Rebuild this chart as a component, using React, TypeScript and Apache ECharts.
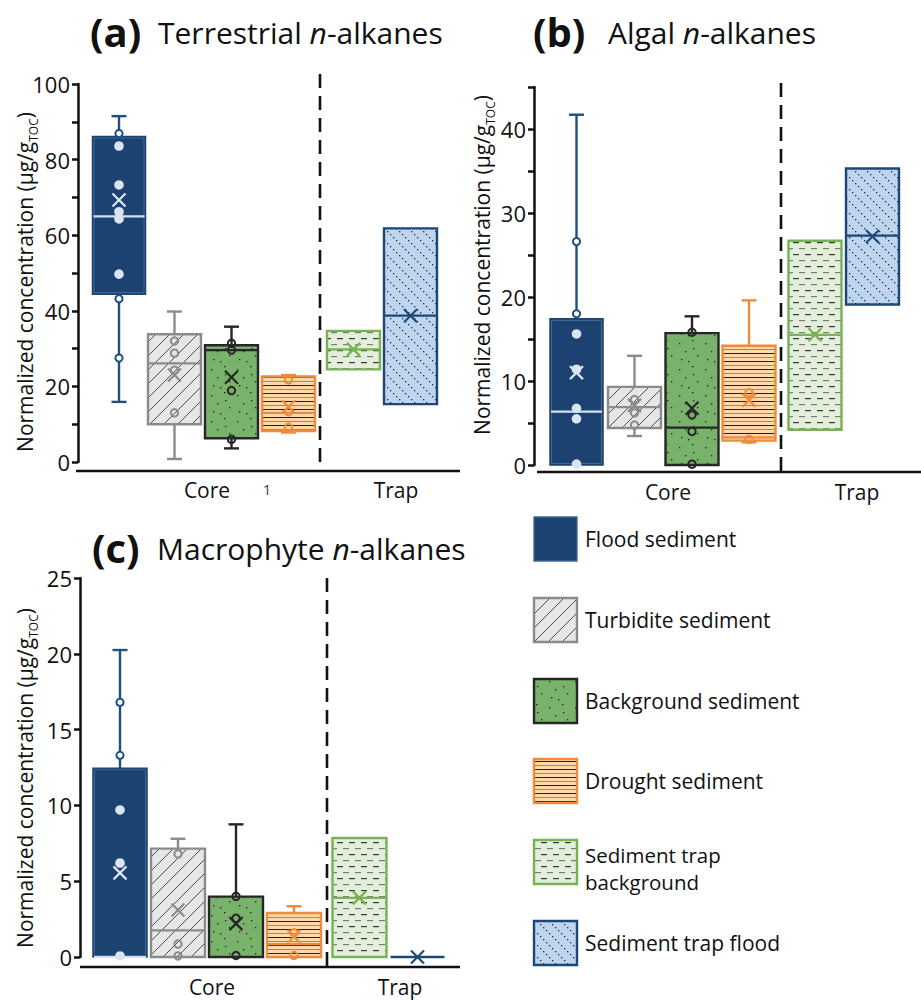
import React, { useEffect, useRef } from "react";
import * as echarts from "echarts";

// ---------- categories ----------
const groups = [
  "Flood sediment",
  "Turbidite sediment",
  "Background sediment",
  "Drought sediment",
  "Sediment trap\nbackground",
  "Sediment trap flood",
];
const sites = ["Core", "Trap"];

// ---------- (a) Terrestrial n-alkanes ----------
const terrLow = [15.9, 0.8, 3.6, 7.8, null, null];
const terrQ1 = [44.4, 10.0, 6.3, 8.2, 24.5, 15.3];
const terrMedian = [65.0, 26.1, 29.6, 13.0, 29.8, 38.7];
const terrQ3 = [86.1, 33.8, 30.9, 22.6, 34.7, 61.8];
const terrHigh = [91.5, 39.8, 35.8, 23.0, null, null];
const terrMean = [69.3, 23.0, 22.4, 14.6, 29.8, 38.7];
const terrPoints = [
  [86.9, 83.6, 73.3, 66.2, 64.3, 49.7, 43.2, 27.5],
  [32.0, 28.8, 24.3, 13.0],
  [31.4, 29.6, 18.9, 6.0],
  [21.7, 13.3, 9.2],
  [],
  [],
];
const terrTickLabels = [0, 20, 40, 60, 80, 100];

// ---------- (b) Algal n-alkanes ----------
const algLow = [0, 3.45, 0, 2.7, null, null];
const algQ1 = [0, 4.4, 0, 2.9, 4.2, 19.1];
const algMedian = [6.35, 6.9, 4.45, 3.3, 15.5, 27.3];
const algQ3 = [17.4, 9.3, 15.7, 14.2, 26.7, 35.3];
const algHigh = [41.7, 13.0, 17.7, 19.6, null, null];
const algMean = [11.0, 7.1, 6.75, 7.7, 15.5, 27.2];
const algPoints = [
  [26.6, 18.0, 15.6, 11.4, 6.75, 5.5, 0.1],
  [7.8, 6.2, 4.75],
  [15.8, 5.95, 4.0, 0.1],
  [8.6, 3.05],
  [],
  [],
];
const algTickLabels = [0, 10, 20, 30, 40];

// ---------- (c) Macrophyte n-alkanes ----------
const macLow = [0, 0, 0, 0, null, null];
const macQ1 = [0, 0, 0, 0, 0, 0];
const macMedian = [0, 1.75, 0, 0.85, 3.9, 0];
const macQ3 = [12.45, 7.15, 3.98, 2.9, 7.85, 0];
const macHigh = [20.25, 7.8, 8.75, 3.35, null, null];
const macMean = [5.55, 3.1, 2.2, 1.35, 3.9, 0];
const macPoints = [
  [16.8, 13.3, 9.7, 6.2, 0.07],
  [6.8, 0.85, 0.07],
  [4.0, 2.55, 0.1],
  [1.6, 0.1],
  [],
  [],
];
const macTickLabels = [0, 5, 10, 15, 20, 25];

const FONT = "'Open Sans', sans-serif";
const NAVY = "#1b4270";

function makePattern(w: number, h: number, bg: string, draw: (c: CanvasRenderingContext2D) => void) {
  const cv = document.createElement("canvas");
  cv.width = w;
  cv.height = h;
  const c = cv.getContext("2d")!;
  c.fillStyle = bg;
  c.fillRect(0, 0, w, h);
  draw(c);
  return { image: cv, repeat: "repeat" } as any;
}

function buildStyles() {
  const turb = makePattern(14, 14, "#e5e6e8", (c) => {
    c.strokeStyle = "#3c3c3c";
    c.lineWidth = 0.9;
    c.beginPath();
    c.moveTo(0, 14); c.lineTo(14, 0);
    c.moveTo(-2, 2); c.lineTo(2, -2);
    c.moveTo(12, 16); c.lineTo(16, 12);
    c.stroke();
  });
  const bg = makePattern(26, 26, "#79b26a", (c) => {
    c.fillStyle = "#1e1e1e";
    [[3, 5], [16, 2], [9, 13], [21, 17], [5, 21], [17, 10], [12, 23]].forEach(([x, y]) => c.fillRect(x, y, 1.3, 1.3));
  });
  const dr = makePattern(4, 8, "#fdd9a9", (c) => {
    c.fillStyle = "#1e1e1e";
    c.fillRect(0, 1, 4, 1);
    c.fillStyle = "#8d8d8d";
    c.fillRect(0, 5, 4, 1);
  });
  const tb = makePattern(12, 12, "#e3efda", (c) => {
    c.fillStyle = "#3a3a3a";
    c.fillRect(1, 2, 6, 1.2);
    c.fillStyle = "#7a7a7a";
    c.fillRect(7, 8, 5, 1.2);
    c.fillRect(0, 8, 1, 1.2);
  });
  const tf = makePattern(12, 12, "#bdd5ee", (c) => {
    c.fillStyle = "#2e2e2e";
    [0, 3, 6, 9].forEach((d) => c.fillRect(d, d, 1.3, 1.3));
  });
  return [
    { fill: NAVY, stroke: "#3e6595", strokeW: 1.3, whisker: "#1f4f82", median: "#d6e0ef", mean: "#dde6f3", pt: "#1f4f82" },
    { fill: turb, stroke: "#8b8b8b", strokeW: 2.4, whisker: "#8b8b8b", median: "#8b8b8b", mean: "#8b8b8b", pt: "#8b8b8b" },
    { fill: bg, stroke: "#262626", strokeW: 2.4, whisker: "#262626", median: "#262626", mean: "#262626", pt: "#262626" },
    { fill: dr, stroke: "#f08a3d", strokeW: 2.4, whisker: "#f08a3d", median: "#f08a3d", mean: "#f08a3d", pt: "#f08a3d" },
    { fill: tb, stroke: "#77b255", strokeW: 2.4, whisker: "#77b255", median: "#77b255", mean: "#77b255", pt: "#77b255" },
    { fill: tf, stroke: "#1d4876", strokeW: 2.4, whisker: "#1d4876", median: "#1d4876", mean: "#1d4876", pt: "#1d4876" },
  ];
}

const panels = [
  {
    low: terrLow, q1: terrQ1, med: terrMedian, q3: terrQ3, high: terrHigh, mean: terrMean, pts: terrPoints,
    max: 100, interval: 10, labels: terrTickLabels,
    grid: { left: 78, top: 84, width: 382, height: 378 },
    slots: [41, 96.5, 153.5, 210.5, 275.5, 332.5], boxW: 53,
  },
  {
    low: algLow, q1: algQ1, med: algMedian, q3: algQ3, high: algHigh, mean: algMean, pts: algPoints,
    max: 45, interval: 5, labels: algTickLabels,
    grid: { left: 534, top: 87, width: 387, height: 378 },
    slots: [42.5, 100.5, 158, 215, 281, 338.5], boxW: 53,
  },
  {
    low: macLow, q1: macQ1, med: macMedian, q3: macQ3, high: macHigh, mean: macMean, pts: macPoints,
    max: 25, interval: 5, labels: macTickLabels,
    grid: { left: 80, top: 578, width: 380, height: 379 },
    slots: [40, 98, 156, 214, 279.5, 337.5], boxW: 54,
  },
];

function buildOption() {
  const S = buildStyles();
  const series: any[] = [];
  panels.forEach((p, pi) => {
    // boxes
    series.push({
      type: "custom",
      xAxisIndex: pi,
      yAxisIndex: pi,
      silent: true,
      z: 2,
      encode: { x: 0, y: 1 },
      data: p.slots.map((x, i) => [x, p.q3[i]]),
      renderItem: (params: any, api: any) => {
        const i = params.dataIndex;
        const st = S[i];
        const cx = p.slots[i];
        const hw = p.boxW / 2;
        const P = (x: number, v: number) => api.coord([x, v]);
        const ch: any[] = [];
        const cap = 7.5;
        if (p.high[i] != null && p.high[i]! > p.q3[i]) {
          const a = P(cx, p.high[i]!);
          const b = P(cx, p.q3[i]);
          ch.push({ type: "line", shape: { x1: a[0], y1: a[1], x2: b[0], y2: b[1] }, style: { stroke: st.whisker, lineWidth: 2.4 } });
          ch.push({ type: "line", shape: { x1: a[0] - cap, y1: a[1], x2: a[0] + cap, y2: a[1] }, style: { stroke: st.whisker, lineWidth: 2.4 } });
        }
        if (p.low[i] != null && p.low[i]! < p.q1[i]) {
          const a = P(cx, p.low[i]!);
          const b = P(cx, p.q1[i]);
          ch.push({ type: "line", shape: { x1: a[0], y1: a[1], x2: b[0], y2: b[1] }, style: { stroke: st.whisker, lineWidth: 2.4 } });
          ch.push({ type: "line", shape: { x1: a[0] - cap, y1: a[1], x2: a[0] + cap, y2: a[1] }, style: { stroke: st.whisker, lineWidth: 2.4 } });
        }
        const tl = P(cx - hw, p.q3[i]);
        const br = P(cx + hw, p.q1[i]);
        if (i === 0) {
          ch.push({ type: "rect", shape: { x: tl[0], y: tl[1], width: br[0] - tl[0], height: br[1] - tl[1] }, style: { fill: NAVY, stroke: NAVY, lineWidth: 1.5 } });
          ch.push({ type: "rect", shape: { x: tl[0] + 1.5, y: tl[1] + 1.5, width: br[0] - tl[0] - 3, height: Math.max(0, br[1] - tl[1] - 3) }, style: { fill: "none", stroke: st.stroke, lineWidth: 1.1 } });
        } else {
          ch.push({ type: "rect", shape: { x: tl[0], y: tl[1], width: br[0] - tl[0], height: br[1] - tl[1] }, style: { fill: st.fill, stroke: st.stroke, lineWidth: st.strokeW } });
        }
        const m = P(cx, p.med[i]);
        ch.push({ type: "line", shape: { x1: tl[0] + 1, y1: m[1], x2: br[0] - 1, y2: m[1] }, style: { stroke: st.median, lineWidth: 2.2 } });
        return { type: "group", children: ch };
      },
    });
    // points
    const ptData: any[] = [];
    p.pts.forEach((arr, gi) => arr.forEach((v) => ptData.push([p.slots[gi], v, gi])));
    series.push({
      type: "custom",
      xAxisIndex: pi,
      yAxisIndex: pi,
      silent: true,
      z: 3,
      encode: { x: 0, y: 1 },
      data: ptData,
      renderItem: (params: any, api: any) => {
        const gi = api.value(2);
        const v = api.value(1);
        const c = api.coord([api.value(0), v]);
        const st = S[gi];
        if (gi === 0) {
          const inside = v >= p.q1[gi] - 0.01 && v <= p.q3[gi];
          if (inside) return { type: "circle", shape: { cx: c[0], cy: c[1], r: 4.8 }, style: { fill: "#dbe4f2" } };
          return { type: "circle", shape: { cx: c[0], cy: c[1], r: 3.6 }, style: { fill: "#ffffff", stroke: st.pt, lineWidth: 2 } };
        }
        return { type: "circle", shape: { cx: c[0], cy: c[1], r: 3.7 }, style: { fill: "none", stroke: st.pt, lineWidth: 2 } };
      },
    });
    // means
    series.push({
      type: "custom",
      xAxisIndex: pi,
      yAxisIndex: pi,
      silent: true,
      z: 4,
      encode: { x: 0, y: 1 },
      data: p.slots.map((x, i) => [x, p.mean[i]]),
      renderItem: (params: any, api: any) => {
        const i = params.dataIndex;
        const c = api.coord([api.value(0), api.value(1)]);
        const s = 6.5;
        const stl = { stroke: S[i].mean, lineWidth: 2.2 };
        return {
          type: "group",
          children: [
            { type: "line", shape: { x1: c[0] - s, y1: c[1] - s, x2: c[0] + s, y2: c[1] + s }, style: stl },
            { type: "line", shape: { x1: c[0] - s, y1: c[1] + s, x2: c[0] + s, y2: c[1] - s }, style: stl },
          ],
        };
      },
    });
  });

  const graphic: any[] = [];
  const txt = (x: number, y: number, text: string, size: number, extra: any = {}) => ({
    type: "text",
    x,
    y,
    silent: true,
    style: { text, fontSize: size, fontFamily: FONT, fill: "#111", align: "center", verticalAlign: "middle", ...extra },
  });
  // titles
  const titles = [
    { lab: "(a)", lx: 90, tx: 158, y: 31, name: "Terrestrial " },
    { lab: "(b)", lx: 533, tx: 608, y: 31, name: "Algal " },
    { lab: "(c)", lx: 92, tx: 157, y: 547, name: "Macrophyte " },
  ];
  titles.forEach((t) => {
    graphic.push(txt(t.lx, t.y, t.lab, 40, { align: "left", fontWeight: "bold" }));
    graphic.push(
      txt(t.tx, t.y + 1, `{t|${t.name}}{i|n}{t|-alkanes}`, 30, {
        align: "left",
        rich: {
          t: { fontSize: 30, fontFamily: FONT, fill: "#111" },
          i: { fontSize: 30, fontFamily: FONT, fill: "#111", fontStyle: "italic" },
        },
      })
    );
  });
  // y-axis names
  [[25, 282], [482, 265], [25, 778]].forEach(([x, y]) => {
    graphic.push({
      type: "text",
      x,
      y,
      rotation: Math.PI / 2,
      silent: true,
      style: {
        text: "{m|Normalized concentration (µg/g}{s|TOC}{m|)}",
        fontSize: 21,
        fontFamily: FONT,
        fill: "#111",
        align: "center",
        verticalAlign: "middle",
        rich: {
          m: { fontSize: 21, fontFamily: FONT, fill: "#111", lineHeight: 28, verticalAlign: "middle" },
          s: { fontSize: 12, fontFamily: FONT, fill: "#111", lineHeight: 12, verticalAlign: "bottom" },
        },
      },
    });
  });
  // baselines & dividers
  const base = [
    { x1: 76, x2: 460, y: 471, dx: 320, dy1: 74 },
    { x1: 537, x2: 921, y: 472, dx: 781, dy1: 83 },
    { x1: 80, x2: 460, y: 967, dx: 327, dy1: 578 },
  ];
  base.forEach((b) => {
    graphic.push({ type: "line", silent: true, shape: { x1: b.x1, y1: b.y, x2: b.x2, y2: b.y }, style: { stroke: "#111", lineWidth: 2.5 } });
    graphic.push({ type: "line", silent: true, shape: { x1: b.dx, y1: b.dy1, x2: b.dx, y2: b.y + 1 }, style: { stroke: "#111", lineWidth: 2.6, lineDash: [14, 8] } });
  });
  // site labels
  const siteLabelPos = [
    [[207, 490], [396, 490]],
    [[668, 492], [857, 492]],
    [[212, 987], [400, 987]],
  ];
  siteLabelPos.forEach((pp) => pp.forEach(([x, y], k) => graphic.push(txt(x, y, sites[k], 21))));
  graphic.push(txt(267, 489, "1", 15, { fill: "#444" }));

  // legend
  const legendY = [539, 620, 701, 781, 862, 943];
  groups.forEach((g, i) => {
    const y = legendY[i];
    const st = S[i];
    if (i === 0) {
      graphic.push({ type: "rect", silent: true, shape: { x: 534, y: y - 22, width: 43, height: 44 }, style: { fill: NAVY, stroke: "#3e6595", lineWidth: 1.3 } });
    } else {
      graphic.push({ type: "rect", silent: true, shape: { x: 534, y: y - 22, width: 43, height: 44 }, style: { fill: st.fill, stroke: st.stroke, lineWidth: 2.4 } });
    }
    const lines = g.split("\n");
    if (lines.length === 1) {
      graphic.push(txt(585, y, lines[0], 21, { align: "left" }));
    } else {
      const lh = 27;
      lines.forEach((ln, k) => {
        const ly = y + 6.5 - ((lines.length - 1) * lh) / 2 + k * lh;
        graphic.push(txt(585, ly, ln, 20.5, { align: "left", lineHeight: 20 }));
      });
    }
  });

  const mkY = (p: any, gi: number) => ({
    type: "value",
    gridIndex: gi,
    min: 0,
    max: p.max,
    interval: p.interval,
    axisLine: { show: true, lineStyle: { color: "#111", width: 2.5 } },
    axisTick: { show: true, length: 6, lineStyle: { color: "#111", width: 2.5 } },
    splitLine: { show: false },
    axisLabel: {
      fontSize: 22,
      fontFamily: FONT,
      color: "#111",
      margin: 8,
      formatter: (v: number) => (p.labels.includes(v) ? String(v) : ""),
    },
  });

  return {
    animation: false,
    backgroundColor: "#ffffff",
    grid: panels.map((p) => ({ ...p.grid })),
    xAxis: panels.map((p, gi) => ({ type: "value", gridIndex: gi, min: 0, max: p.grid.width, show: false })),
    yAxis: panels.map((p, gi) => mkY(p, gi)),
    series,
    graphic,
  };
}

export default function App() {
  const ref = useRef<HTMLDivElement>(null);
  useEffect(() => {
    if (!ref.current) return;
    const chart = echarts.init(ref.current, undefined, { renderer: "svg" });
    chart.setOption(buildOption() as any);
    return () => chart.dispose();
  }, []);
  return <div ref={ref} style={{ position: "absolute", left: 0, top: 0, width: 921, height: 1000, background: "#fff" }} />;
}
